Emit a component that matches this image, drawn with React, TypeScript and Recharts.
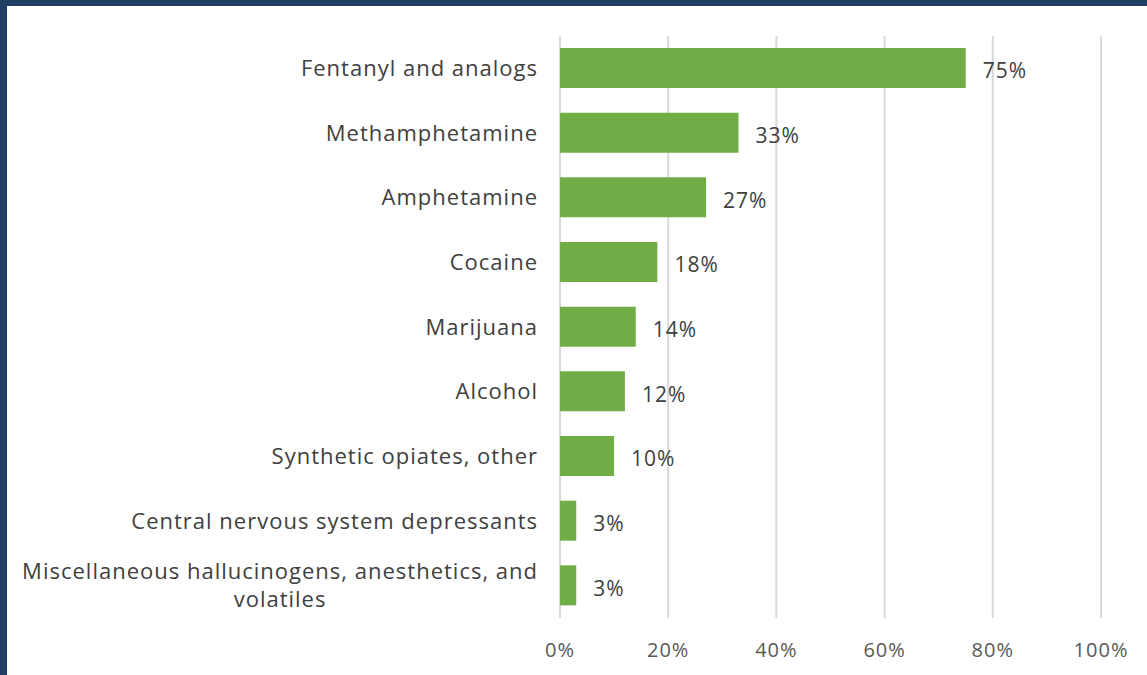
import React from 'react';
import { BarChart, Bar, XAxis, YAxis, CartesianGrid, LabelList } from 'recharts';

const categories = [
  'Fentanyl and analogs',
  'Methamphetamine',
  'Amphetamine',
  'Cocaine',
  'Marijuana',
  'Alcohol',
  'Synthetic opiates, other',
  'Central nervous system depressants',
  'Miscellaneous hallucinogens, anesthetics, and volatiles',
];

const shares = [75, 33, 27, 18, 14, 12, 10, 3, 3];

const xTicks = [0, 20, 40, 60, 80, 100];

const data = categories.map((name, i) => ({ name, value: shares[i] }));

const FONT = '"Open Sans", Lato, sans-serif';
const LABEL_SIZE = 22;
const SPACING = 1;
const MAX_CHARS = 46;

function wrapLabel(text: string): string[] {
  const words = text.split(' ');
  const lines: string[] = [];
  let cur = '';
  for (const w of words) {
    const next = cur ? cur + ' ' + w : w;
    if (next.length > MAX_CHARS && cur) {
      lines.push(cur);
      cur = w;
    } else {
      cur = next;
    }
  }
  if (cur) lines.push(cur);
  return lines;
}

let ctx: CanvasRenderingContext2D | null = null;
function textWidth(s: string): number {
  if (!ctx) ctx = document.createElement('canvas').getContext('2d');
  if (!ctx) return s.length * (LABEL_SIZE * 0.55 + SPACING);
  ctx.font = `${LABEL_SIZE}px ${FONT}`;
  return ctx.measureText(s).width + s.length * SPACING;
}

const CategoryTick = (props: any) => {
  const { x, y, payload } = props;
  const lines = wrapLabel(payload.value);
  const lineH = 28;
  const common = {
    fill: '#404040',
    fontSize: LABEL_SIZE,
    fontFamily: FONT,
    letterSpacing: SPACING,
  };
  if (lines.length === 1) {
    return (
      <text x={x} y={y} dy="0.35em" textAnchor="end" {...common}>
        {lines[0]}
      </text>
    );
  }
  const w = Math.max(...lines.map(textWidth));
  const cx = x - w / 2;
  const y0 = y - ((lines.length - 1) * lineH) / 2;
  return (
    <text textAnchor="middle" {...common}>
      {lines.map((l, i) => (
        <tspan key={i} x={cx} y={y0 + i * lineH} dy="0.35em">
          {l}
        </tspan>
      ))}
    </text>
  );
};

export default function App() {
  return (
    <div
      style={{
        position: 'absolute',
        left: 0,
        top: 0,
        width: 1147,
        height: 675,
        background: '#ffffff',
        overflow: 'hidden',
      }}
    >
      <BarChart
        width={1147}
        height={675}
        data={data}
        layout="vertical"
        margin={{ top: 36, right: 46, bottom: 17, left: 0 }}
        barSize={40}
      >
        <CartesianGrid horizontal={false} stroke="#d9d9d9" strokeWidth={2} />
        <XAxis
          type="number"
          domain={[0, 100]}
          ticks={xTicks}
          tickFormatter={(v) => `${v}%`}
          axisLine={false}
          tickLine={false}
          tickMargin={19}
          height={40}
          tick={{ fill: '#595959', fontSize: 20, fontFamily: FONT, letterSpacing: 1 }}
        />
        <YAxis
          type="category"
          dataKey="name"
          width={560}
          axisLine={false}
          tickLine={false}
          tickMargin={16}
          interval={0}
          tick={<CategoryTick />}
        />
        <Bar dataKey="value" fill="#70ad47" isAnimationActive={false}>
          <LabelList
            dataKey="value"
            position="right"
            offset={17}
            formatter={(v: any) => `${v}%`}
            fill="#404040"
            fontSize={21}
            fontFamily={FONT}
            letterSpacing={1}
            dy={3}
          />
        </Bar>
      </BarChart>
      <div style={{ position: 'absolute', left: 0, top: 0, width: 1147, height: 6, background: '#1f3f63' }} />
      <div style={{ position: 'absolute', left: 0, top: 0, width: 7, height: 675, background: '#1f3f63' }} />
    </div>
  );
}
